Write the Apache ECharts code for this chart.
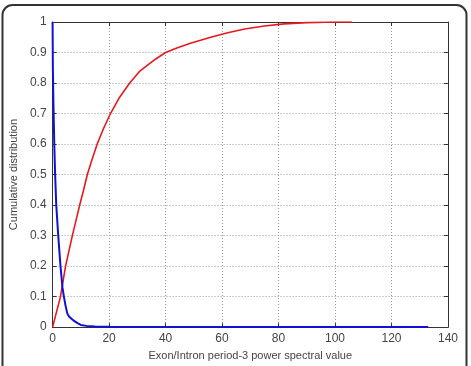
<!DOCTYPE html>
<html><head><meta charset="utf-8">
<script src="https://cdn.jsdelivr.net/npm/echarts@6/dist/echarts.min.js"></script>
<style>html,body{margin:0;padding:0;background:#fff}#c{width:471px;height:366px}</style>
</head><body><div id="c"></div>
<script>
const xTicks = [0,20,40,60,80,100,120,140];
const yTicks = [0,0.1,0.2,0.3,0.4,0.5,0.6,0.7,0.8,0.9,1];
const exonX = [0,1.4,2.8,3.7,4.6,5.8,7.0,8.3,9.6,11,12.3,14,15.8,18,20.5,23.5,27.3,31,36.4,40,44,48.8,56,62,68,75,82,90,100,106];
const exonY = [0,0.05,0.1,0.15,0.2,0.25,0.3,0.35,0.4,0.45,0.5,0.55,0.6,0.65,0.7,0.75,0.8,0.84,0.878,0.9,0.915,0.93,0.95,0.965,0.977,0.987,0.994,0.998,1,1];
const intronX = [0,0.1,0.3,0.6,0.9,1.3,2.0,2.8,3.5,4.0,4.6,5.2,5.8,7,8,9,10,12,15,20,133];
const intronY = [1,0.85,0.73,0.6,0.5,0.4,0.3,0.2,0.13,0.1,0.07,0.045,0.035,0.025,0.018,0.012,0.007,0.004,0.002,0.001,0];

const font = 'Liberation Sans, Arial, sans-serif';
const chart = echarts.init(document.getElementById('c'));
const pair = (xs, ys) => xs.map((x,i)=>[x, ys[i]]);
const gridLine = {show:true, lineStyle:{color:'#999', type:[1,2], width:1}};
const baseX = {type:'value', min:0, max:140, interval:20,
  axisLine:{show:true, onZero:false, lineStyle:{color:'#333'}},
  axisTick:{show:true, inside:true, length:4, lineStyle:{color:'#333'}}};
const baseY = {type:'value', min:0, max:1, interval:0.1,
  axisLine:{show:true, onZero:false, lineStyle:{color:'#333'}},
  axisTick:{show:true, inside:true, length:4, lineStyle:{color:'#333'}}};
chart.setOption({
  animation:false,
  graphic:[{type:'rect', shape:{x:2.5, y:5, width:464, height:380, r:10},
    style:{fill:'none', stroke:'#333', lineWidth:2}}],
  grid:{left:52, right:23, top:22, bottom:31, show:false},
  xAxis:[
    Object.assign({}, baseX, {position:'bottom',
      name:'Exon/Intron period-3 power spectral value', nameLocation:'middle', nameGap:21,
      nameTextStyle:{fontFamily:font, fontSize:11, color:'#444'},
      axisLabel:{fontFamily:font, fontSize:12, color:'#444', margin:6,
        formatter:v=>xTicks.includes(v)?String(v):''},
      splitLine:gridLine}),
    Object.assign({}, baseX, {position:'top', axisLabel:{show:false}, splitLine:{show:false}})
  ],
  yAxis:[
    Object.assign({}, baseY, {position:'left',
      name:'Cumulative distribution', nameLocation:'middle', nameGap:28,
      nameTextStyle:{fontFamily:font, fontSize:11, color:'#444'},
      axisLabel:{fontFamily:font, fontSize:12, color:'#444', margin:6,
        formatter:v=>{const t=yTicks.find(a=>Math.abs(a-v)<1e-9); return t===undefined?'':String(t);}},
      splitLine:gridLine}),
    Object.assign({}, baseY, {position:'right', axisLabel:{show:false}, splitLine:{show:false}})
  ],
  series:[
    {type:'line', data:pair(exonX, exonY), showSymbol:false, lineStyle:{color:'#e8191e', width:1.6}, z:3},
    {type:'line', data:pair(intronX, intronY), showSymbol:false, lineStyle:{color:'#1010d8', width:2}, z:4}
  ]
});
</script></body></html>
